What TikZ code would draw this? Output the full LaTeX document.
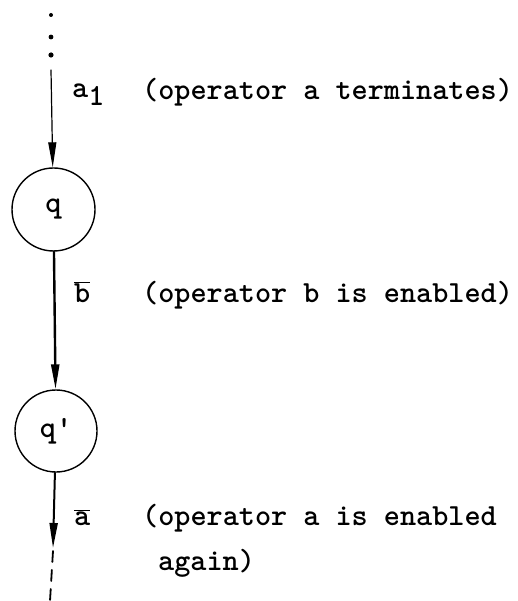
\documentclass[tikz,border=0pt]{standalone}
\usepackage{fontspec}
\usetikzlibrary{arrows.meta}
\usetikzlibrary{positioning}
\newcommand{\tw}{\ttfamily\bfseries\fontsize{30.7pt}{36pt}\selectfont}
\tikzset{state/.style={circle,draw,line width=1.4pt,minimum size=83pt,inner sep=0pt,font=\tw},
  txt/.style={anchor=base west,inner sep=0pt,font=\tw}}
\begin{document}
\begin{tikzpicture}[line cap=round,line join=round,>={Triangle[length=25pt,width=8pt]},x=1pt,y=-1pt]
\useasboundingbox (0,0) rectangle (517,601);
% states
\node[state] (q) at (53.5,209.5) {q};
\node[state,minimum size=82pt] (qp) at (56,431) {q'};
\coordinate (top) at (51,70);
\coordinate (bot) at (53,548);
\coordinate (end) at (50,601);
% dots above and below
\foreach \y/\r in {15/2,37/2.4,55/2.6}
\fill (51,\y) circle (\r pt);
\draw[line width=1.8pt,dash pattern=on 11pt off 8pt] (53,551) -- (end);
% transitions
\draw[->,line width=1.2pt] (top) -- (q);
\draw[->,line width=2.4pt] (q) -- (qp);
\draw[->,line width=2pt] (qp) -- (bot);
% labels
\node[txt] (a1) at (72,98) {a\raisebox{-8pt}{1}};
\node[txt] (t1) at (142,100) {(operator a terminates)};
\node[txt] (b) at (74,302) {$\overline{\hbox{b}}$};
\node[txt] (t2) at (142,302) {(operator b is enabled)};
\node[txt] (a) at (74,525) {$\overline{\hbox{a}}$};
\node[txt] (t3) at (142,525) {(operator a is enabled};
\node[txt] (t4) at (158,570) {again)};
\end{tikzpicture}
\end{document}
